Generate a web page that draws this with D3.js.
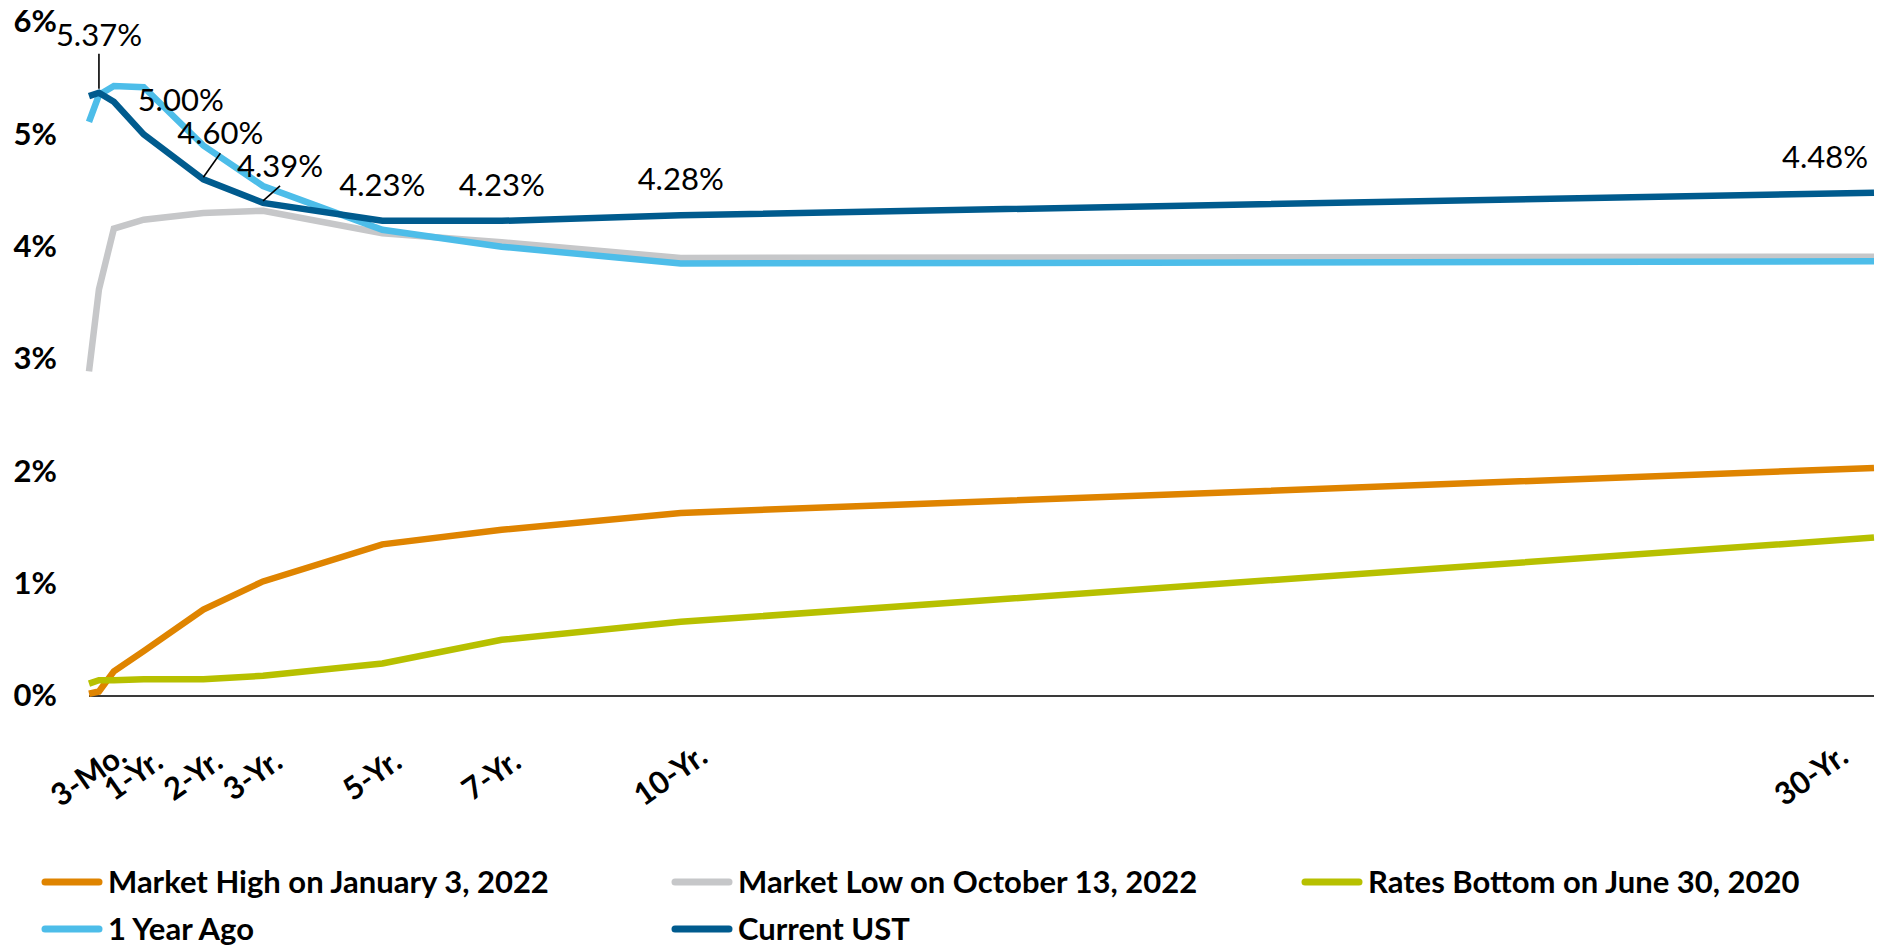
<!DOCTYPE html>
<html>
<head>
<meta charset="utf-8">
<script src="https://cdn.jsdelivr.net/npm/d3@7"></script>
<style>
  html, body { margin: 0; padding: 0; background: #fff; }
  svg { display: block; font-family: Lato, "Open Sans", sans-serif; }
</style>
</head>
<body>
<svg id="chart" width="1885" height="949"></svg>
<script>
// Treasury maturities, in years
const maturities = [1/12, 0.25, 0.5, 1, 2, 3, 5, 7, 10, 30];

// Yield curves (%)
const marketHigh  = [0.02, 0.04, 0.22, 0.40, 0.77, 1.02, 1.35, 1.48, 1.63, 2.03];
const marketLow   = [2.89, 3.62, 4.16, 4.24, 4.30, 4.32, 4.12, 4.04, 3.90, 3.91];
const ratesBottom = [0.11, 0.14, 0.14, 0.15, 0.15, 0.18, 0.29, 0.50, 0.66, 1.41];
const yearAgo     = [5.11, 5.35, 5.43, 5.42, 4.90, 4.54, 4.15, 4.00, 3.85, 3.87];
const currentUST  = [5.34, 5.37, 5.29, 5.00, 4.60, 4.39, 4.23, 4.23, 4.28, 4.48];

const seriesNames = [
  "Market High on January 3, 2022",
  "Market Low on October 13, 2022",
  "Rates Bottom on June 30, 2020",
  "1 Year Ago",
  "Current UST"
];
const seriesValues = [marketHigh, marketLow, ratesBottom, yearAgo, currentUST];
const seriesColors = ["#df8400", "#c6c7c9", "#b7c000", "#4dbde9", "#005b8e"];

// Axis labels
const tickMaturities = [0.25, 1, 2, 3, 5, 7, 10, 30];
const tickLabels = ["3-Mo.", "1-Yr.", "2-Yr.", "3-Yr.", "5-Yr.", "7-Yr.", "10-Yr.", "30-Yr."];
const yTicks = [0, 1, 2, 3, 4, 5, 6];

// Labelled points on the current curve, with label offsets and leader lines
const labelledMaturities = [0.25, 1, 2, 3, 5, 7, 10, 30];
const labelLayout = [
  { dx: 0,   dy: -58, leader: [0, -4, 0, -39] },
  { dx: 37,  dy: -34 },
  { dx: 17,  dy: -46, leader: [0, -2, 17, -26] },
  { dx: 17,  dy: -37, leader: [0, -2, 17, -17] },
  { dx: 0,   dy: -36 },
  { dx: 0,   dy: -36 },
  { dx: 0,   dy: -36 },
  { dx: -49, dy: -36 }
];

const svg = d3.select("#chart");
const FONT = 31;

const x = d3.scaleLinear().domain([1/12, 30]).range([89, 1874]);
const y = d3.scaleLinear().domain([0, 6]).range([696, 22]);

// Y axis: percentage labels only
const yAxis = svg.append("g")
  .attr("transform", `translate(${57},0)`)
  .call(d3.axisLeft(y).tickValues(yTicks).tickSize(0).tickPadding(0).tickFormat(d => d + "%"));
yAxis.select(".domain").remove();
yAxis.selectAll("text")
  .attr("font-family", "Lato, sans-serif")
  .attr("font-size", FONT)
  .attr("font-weight", 700)
  .attr("fill", "#000");

// Zero baseline
svg.append("line")
  .attr("x1", x.range()[0]).attr("x2", x.range()[1])
  .attr("y1", y(0)).attr("y2", y(0))
  .attr("stroke", "#3a3a3a").attr("stroke-width", 2);

// X axis: rotated maturity labels
const xAxis = svg.append("g")
  .attr("transform", `translate(0,${y(0)})`)
  .call(d3.axisBottom(x).tickValues(tickMaturities).tickSize(0)
    .tickFormat((d, i) => tickLabels[i]));
xAxis.select(".domain").remove();
const rightLimit = x.range()[1] - 22;
xAxis.selectAll(".tick").each(function () {
  const tick = d3.select(this);
  const t = tick.select("text")
    .attr("font-family", "Lato, sans-serif")
    .attr("font-size", FONT)
    .attr("font-weight", 700)
    .attr("fill", "#000")
    .attr("text-anchor", "middle")
    .attr("dy", "0.35em")
    .attr("y", 0);
  const w = t.node().getComputedTextLength();
  const tx = +tick.attr("transform").match(/translate\(([-\d.]+)/)[1];
  const half = (w / 2) * Math.cos(35 * Math.PI / 180) + 8;
  let cx = -11;
  if (tx + cx + half > rightLimit) cx = rightLimit - half - tx;
  t.attr("transform", `translate(${cx},${79}) rotate(-35)`);
});

// Curves
const line = d3.line()
  .x((d, i) => x(maturities[i]))
  .y(d => y(d));

svg.append("g").selectAll("path")
  .data(seriesValues)
  .join("path")
  .attr("d", line)
  .attr("fill", "none")
  .attr("stroke", (d, i) => seriesColors[i])
  .attr("stroke-width", 6.5)
  .attr("stroke-linejoin", "miter")
  .attr("stroke-linecap", "butt");

// Value labels on the current curve
const ann = svg.append("g");
labelledMaturities.forEach((m, i) => {
  const idx = maturities.indexOf(m);
  const px = x(m), py = y(currentUST[idx]);
  const L = labelLayout[i];
  if (L.leader) {
    ann.append("line")
      .attr("x1", px + L.leader[0]).attr("y1", py + L.leader[1])
      .attr("x2", px + L.leader[2]).attr("y2", py + L.leader[3])
      .attr("stroke", "#000").attr("stroke-width", 1.6);
  }
  ann.append("text")
    .attr("x", px + L.dx).attr("y", py + L.dy)
    .attr("dy", "0.35em")
    .attr("text-anchor", "middle")
    .attr("font-size", FONT)
    .attr("font-weight", 400)
    .attr("fill", "#000")
    .text(currentUST[idx].toFixed(2) + "%");
});

// Legend: three columns, two rows
const legend = svg.append("g").selectAll("g")
  .data(seriesNames)
  .join("g")
  .attr("transform", (d, i) => `translate(${42 + (i % 3) * 630},${882 + Math.floor(i / 3) * 47})`);
legend.append("line")
  .attr("x1", 3).attr("x2", 57).attr("y1", 0).attr("y2", 0)
  .attr("stroke", (d, i) => seriesColors[i])
  .attr("stroke-width", 7)
  .attr("stroke-linecap", "round");
legend.append("text")
  .attr("x", 66).attr("y", 0).attr("dy", "0.35em")
  .attr("font-size", FONT)
  .attr("font-weight", 700)
  .attr("fill", "#000")
  .text(d => d);
</script>
</body>
</html>
